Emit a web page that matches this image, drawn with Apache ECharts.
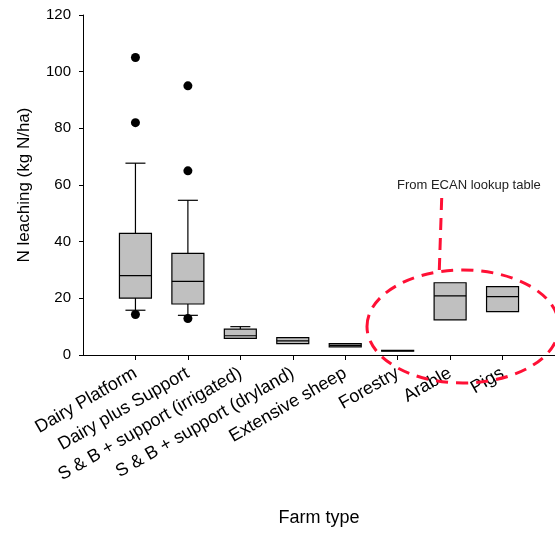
<!DOCTYPE html>
<html>
<head>
<meta charset="utf-8">
<script src="https://cdn.jsdelivr.net/npm/echarts@6/dist/echarts.min.js"></script>
<style>
  html, body { margin: 0; padding: 0; background: #fff; }
  #chart { width: 555px; height: 533px; }
</style>
</head>
<body>
<div id="chart"></div>
<script>
const farmTypes = [
  'Dairy Platform',
  'Dairy plus Support',
  'S & B + support (irrigated)',
  'S & B + support (dryland)',
  'Extensive sheep',
  'Forestry',
  'Arable',
  'Pigs'
]

// box statistics per farm type (kg N/ha)
const whiskerLow = [15.8, 14.0, 5.8, 4.0, 2.8, 1.3, 12.4, 15.3]
const q1 = [20.1, 18.0, 5.9, 4.0, 2.9, 1.35, 12.4, 15.3]
const median = [28.0, 26.0, 6.8, 5.0, 3.4, 1.5, 20.9, 20.6]
const q3 = [42.9, 35.9, 9.1, 6.1, 4.0, 1.65, 25.5, 24.1]
const whiskerHigh = [67.7, 54.6, 10.0, 6.1, 4.1, 1.7, 25.5, 24.1]

// outliers: [farm type index (1-based), value]
const outlierType = [1, 1, 1, 2, 2, 2]
const outlierValue = [105, 82, 14.3, 95, 65, 12.9]

const yTicks = [0, 20, 40, 60, 80, 100, 120]

const boxData = farmTypes.map((name, i) => [
  i + 1, whiskerLow[i], q1[i], median[i], q3[i], whiskerHigh[i]
])
const outlierData = outlierType.map((t, i) => [t, outlierValue[i]])

const chart = echarts.init(document.getElementById('chart'))

const renderBox = (params, api) => {
  const x = api.value(0)
  const pLow = api.coord([x, api.value(1)])
  const pQ1 = api.coord([x, api.value(2)])
  const pMed = api.coord([x, api.value(3)])
  const pQ3 = api.coord([x, api.value(4)])
  const pHigh = api.coord([x, api.value(5)])
  const cx = pQ1[0]
  const halfBox = 16
  const halfCap = 10
  const line = { stroke: '#000', lineWidth: 1.2 }
  const children = []
  if (pHigh[1] < pQ3[1] - 0.5) {
    children.push({ type: 'line', shape: { x1: cx, y1: pHigh[1], x2: cx, y2: pQ3[1] }, style: line })
    children.push({ type: 'line', shape: { x1: cx - halfCap, y1: pHigh[1], x2: cx + halfCap, y2: pHigh[1] }, style: line })
  }
  if (pLow[1] > pQ1[1] + 0.5) {
    children.push({ type: 'line', shape: { x1: cx, y1: pQ1[1], x2: cx, y2: pLow[1] }, style: line })
    children.push({ type: 'line', shape: { x1: cx - halfCap, y1: pLow[1], x2: cx + halfCap, y2: pLow[1] }, style: line })
  }
  children.push({
    type: 'rect',
    shape: { x: cx - halfBox, y: pQ3[1], width: halfBox * 2, height: pQ1[1] - pQ3[1] },
    style: { fill: '#c0c0c0', stroke: '#000', lineWidth: 1.2 }
  })
  children.push({ type: 'line', shape: { x1: cx - halfBox, y1: pMed[1], x2: cx + halfBox, y2: pMed[1] }, style: line })
  return { type: 'group', children }
}

const option = {
  animation: false,
  grid: { left: 83, right: 0, top: 15, bottom: 178 },
  xAxis: {
    type: 'value',
    min: 0,
    max: 9,
    name: 'Farm type',
    nameLocation: 'middle',
    nameGap: 154,
    nameTextStyle: { fontFamily: 'Liberation Sans', fontSize: 18, color: '#000' },
    splitLine: { show: false },
    axisLine: { lineStyle: { color: '#000', width: 1 } },
    axisTick: { length: 5, customValues: [1, 2, 3, 4, 5, 6, 7, 8], lineStyle: { color: '#000' } },
    axisLabel: {
      customValues: [1, 2, 3, 4, 5, 6, 7, 8],
      formatter: (v) => farmTypes[v - 1] || '',
      rotate: 30,
      margin: 17,
      fontFamily: 'Liberation Sans',
      fontSize: 18,
      color: '#000'
    }
  },
  yAxis: {
    type: 'value',
    min: yTicks[0],
    max: yTicks[yTicks.length - 1],
    interval: 20,
    name: 'N leaching (kg N/ha)',
    nameLocation: 'middle',
    nameGap: 50,
    nameTextStyle: { fontFamily: 'Liberation Sans', fontSize: 17, color: '#000' },
    splitLine: { show: false },
    axisLine: { show: true, lineStyle: { color: '#000', width: 1 } },
    axisTick: { show: true, length: 4, lineStyle: { color: '#000' } },
    axisLabel: { margin: 12, fontFamily: 'Liberation Sans', fontSize: 15, color: '#000' }
  },
  series: [
    {
      type: 'custom',
      renderItem: renderBox,
      encode: { x: 0, y: [1, 2, 3, 4, 5] },
      data: boxData,
      z: 2
    },
    {
      type: 'scatter',
      symbol: 'circle',
      symbolSize: 9,
      itemStyle: { color: '#000', opacity: 1 },
      data: outlierData,
      z: 3
    }
  ],
  graphic: [
    {
      type: 'text',
      left: 397,
      top: 179,
      style: { text: 'From ECAN lookup table', font: '13px "Liberation Sans"', fill: '#222' }
    },
    {
      type: 'line',
      shape: { x1: 441.7, y1: 198, x2: 439.3, y2: 270 },
      style: { stroke: '#ff1035', lineWidth: 3, lineDash: [12, 8] },
      z: 10
    },
    {
      type: 'ellipse',
      shape: { cx: 463, cy: 326.5, rx: 96, ry: 56.5 },
      style: { fill: null, stroke: '#ff1035', lineWidth: 3, lineDash: [12, 8] },
      z: 10
    }
  ]
}

chart.setOption(option)
</script>
</body>
</html>
